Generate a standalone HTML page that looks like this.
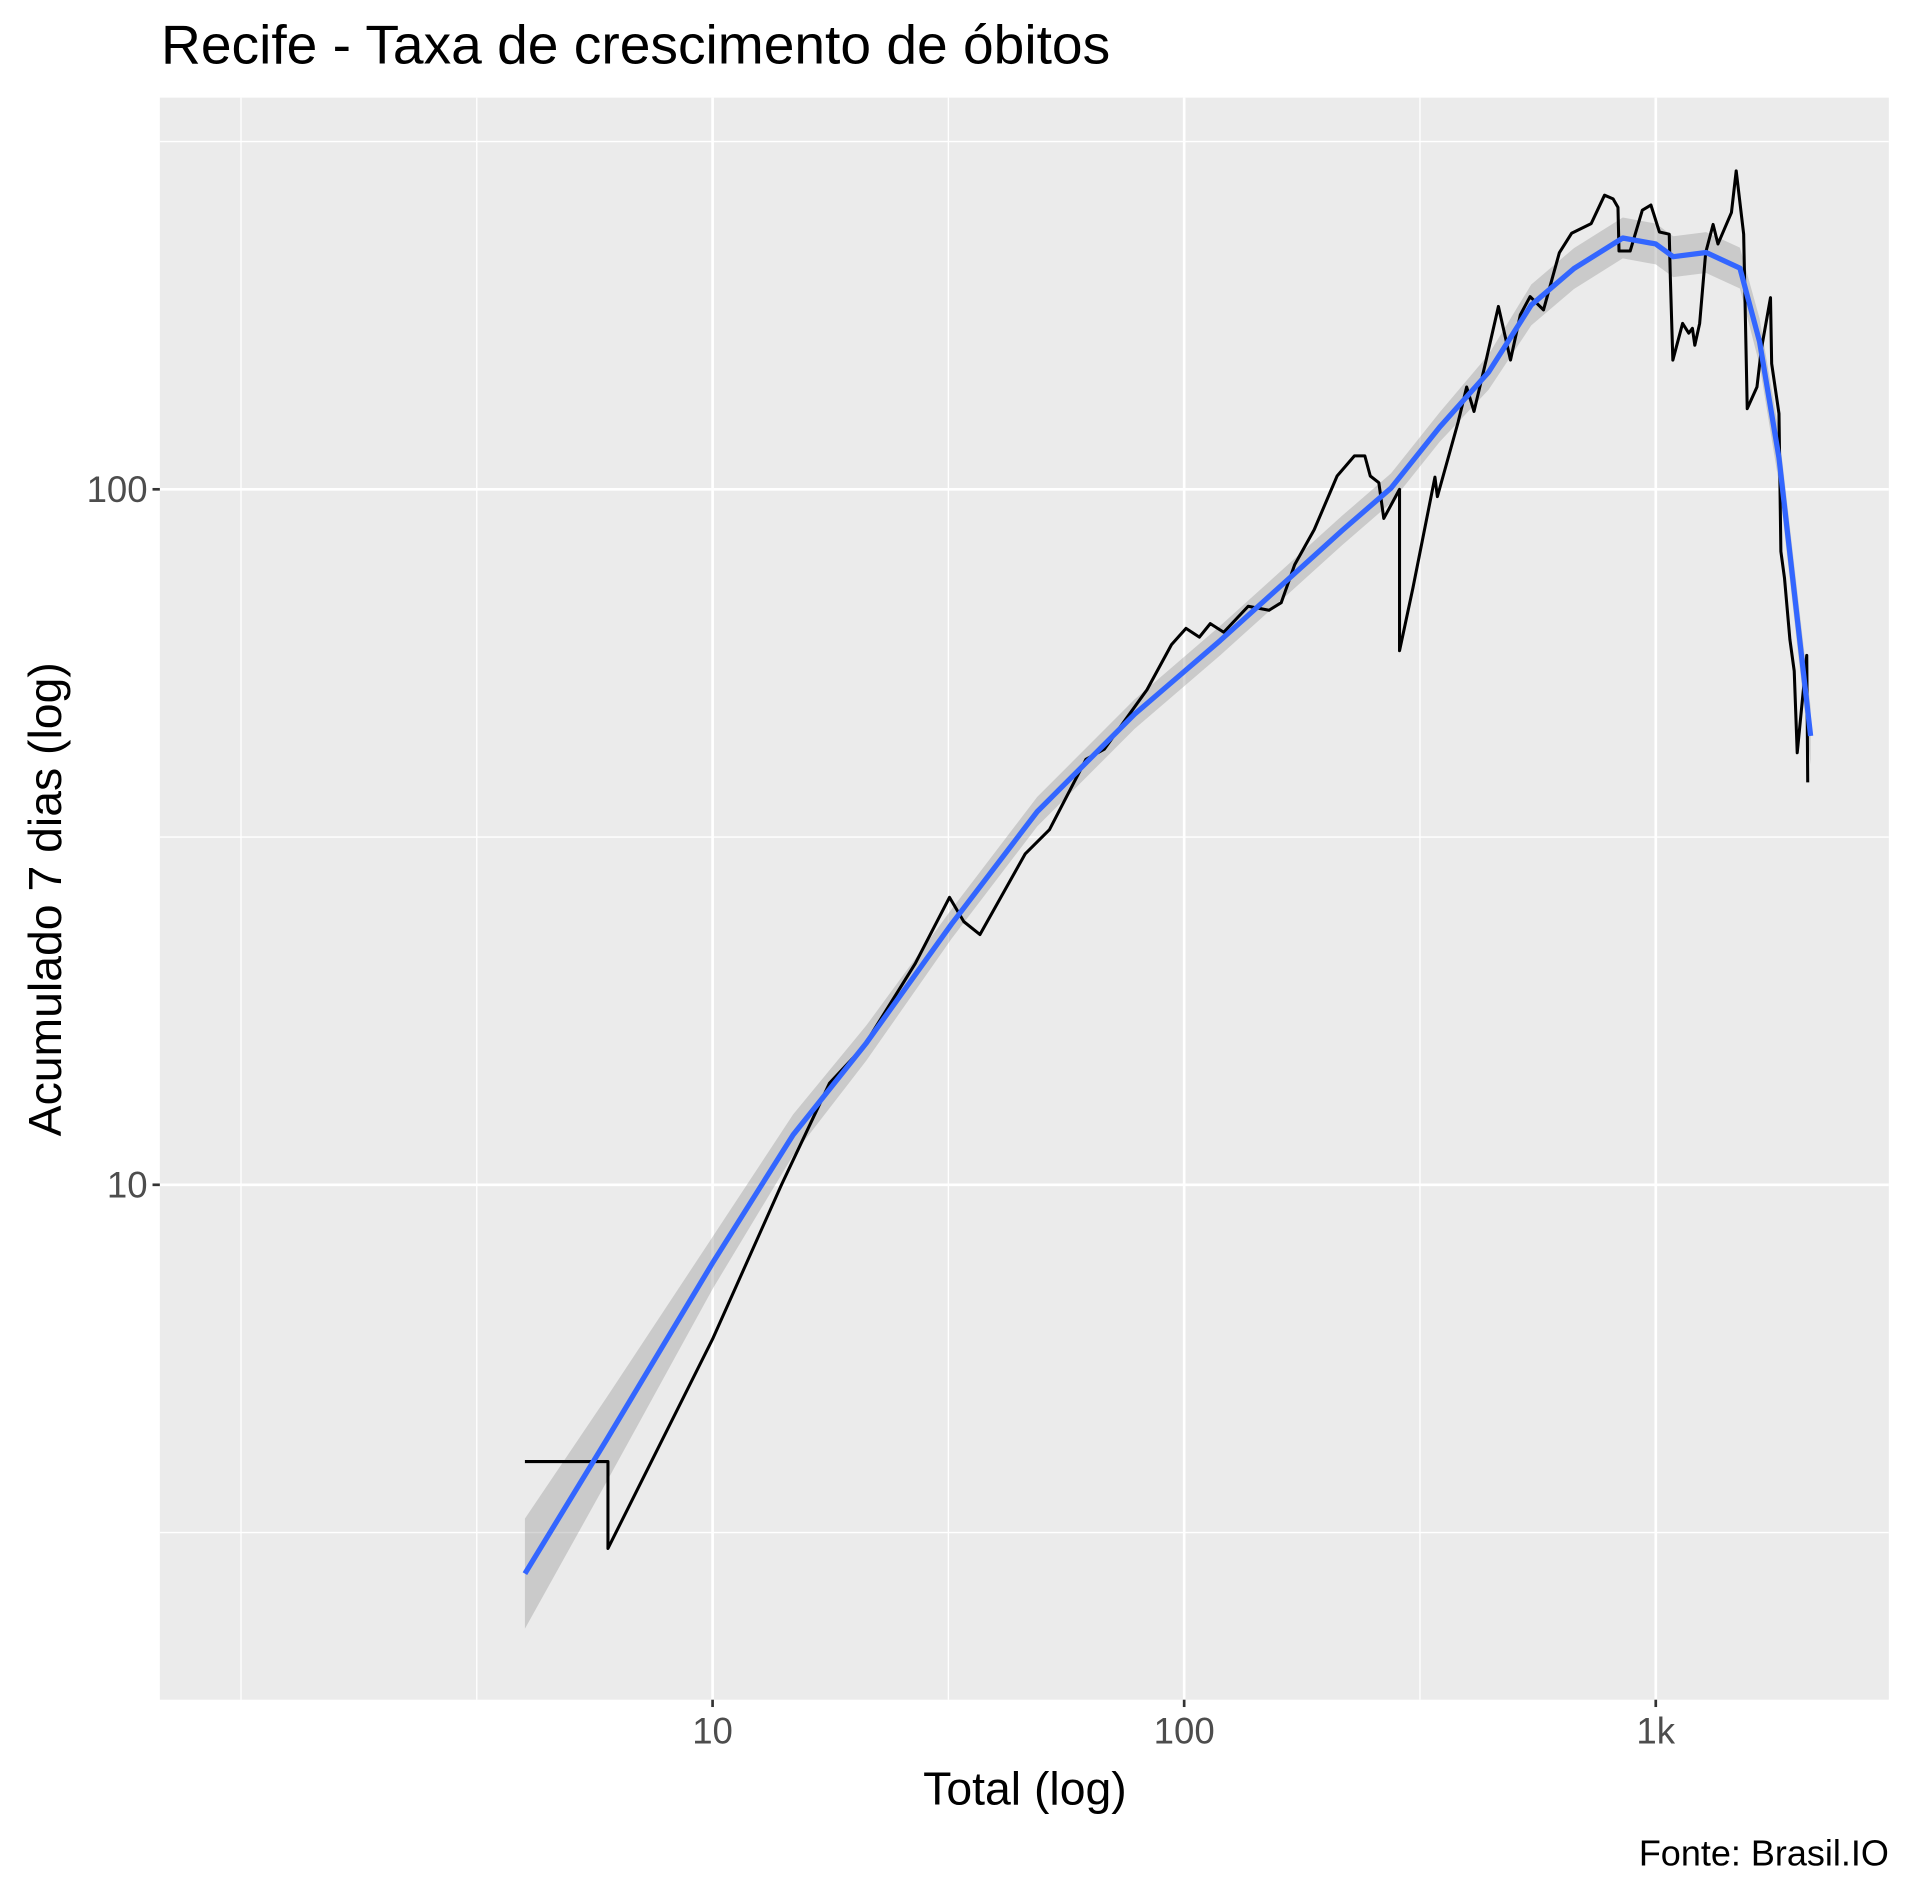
<!DOCTYPE html>
<html><head><meta charset="utf-8"><style>
html,body{margin:0;padding:0;background:#fff}
svg{display:block}
text{font-family:"Liberation Sans",Arial,sans-serif}
</style></head><body>
<svg id="chart" xmlns="http://www.w3.org/2000/svg" width="1912" height="1893" viewBox="0 0 1567 1551.4">
<rect x="0" y="0" width="1567" height="1551.4" fill="#fff"/>
<text x="132" y="52" font-size="45.2" fill="#000">Recife - Taxa de crescimento de óbitos</text>
<rect x="131" y="80" width="1417" height="1313" fill="#EBEBEB"/>
<g id="grid"></g>
<g id="ribbon"></g>
<g id="series"></g>
<g id="axes"></g>
<text x="840" y="1479" font-size="38" text-anchor="middle" fill="#000">Total (log)</text>
<text transform="translate(50,737) rotate(-90)" font-size="38" text-anchor="middle" fill="#000">Acumulado 7 dias (log)</text>
<text x="1548" y="1529" font-size="29.5" text-anchor="end" fill="#000">Fonte: Brasil.IO</text>
</svg>
<script>
const totals = [4,6,6,10,14,17.7,20.9,26.9,31.8,34.1,36.9,46,51.8,61.9,67.7,83.4,94,100.9,107.7,113.6,121.3,136.7,151.3,160.6,171.5,188.7,211,229.6,241.6,248.1,258.7,265,286.2,286.2,305.5,340.2,344.3,381,397.2,411.7,436.9,463.8,492,516.2,541.4,578,624.6,663,729.5,778.7,811.9,831.5,835.7,882.5,936.5,976.5,1018,1068,1074,1087,1140,1175,1196,1210,1239,1276,1323,1355,1447,1481,1536,1563,1639,1674,1751,1761,1825,1842,1875,1925,1966,1995,2090,2100];
const weekly = [4,4,3,6,10,14,15.8,20.8,25.9,23.9,22.9,29.9,32.4,40.9,42.3,51.5,59.8,63.1,61.3,64.1,62.3,67.9,67,68.7,77.9,87.5,104.5,111.7,111.7,104.5,102.2,90.8,100,58.6,72.1,104.1,97.6,124.9,140.3,129.4,153.4,183.2,153.4,178.2,189.3,181.1,218.9,233.4,241,264.8,261.6,254.3,220.1,220.1,252,256.3,234.4,232.7,200.3,153.4,173.2,167.7,170.4,161.1,173.2,218.9,240.3,225.3,250,287,232.7,130.6,140.3,158.8,188.6,151.6,128.5,81.4,74.5,60.8,54.8,41.8,57.7,37.9];
const smoothX = [4,5.96,10,14.82,21.2,32.1,48.8,78.5,119.2,171.5,216,274.5,348.3,442.1,544.5,670.8,851.2,1000,1089,1279,1508,1660,1825,2130];
const smoothY = [2.76,4.3,7.72,11.8,16,23.7,34.4,47.5,60.6,75.7,87.2,100.4,122.9,147.4,184.1,207.7,229.8,225.3,216,219,208,163,111,44.2];
const smoothSpread = [1.2,1.15,1.09,1.07,1.06,1.05,1.05,1.05,1.05,1.05,1.05,1.05,1.05,1.06,1.07,1.07,1.07,1.07,1.07,1.07,1.07,1.08,1.09,1.1];
const xMajor = [10,100,1000];
const xMajorLabels = ["10","100","1k"];
const xMinor = [1,3.1623,31.623,316.23];
const yMajor = [10,100];
const yMajorLabels = ["10","100"];
const yMinor = [3.1623,31.623,316.23];

const NS = "http://www.w3.org/2000/svg";
const PL = 131, PR = 1548, PT = 80, PB = 1393;
function sx(v){ return 584 + 386.5*(Math.log10(v)-1); }
function sy(v){ return 971 - 570*(Math.log10(v)-1); }
function mk(tag, attrs, parent){
  const e = document.createElementNS(NS, tag);
  for (const k in attrs) e.setAttribute(k, attrs[k]);
  parent.appendChild(e);
  return e;
}
const grid = document.getElementById('grid');
xMinor.forEach(v => {
  const l = mk('line', {x1:sx(v), x2:sx(v), y1:PT, y2:PB, stroke:'#fff', 'stroke-width':1.1}, grid);
  
  
});
yMinor.forEach(v => {
  const l = mk('line', {x1:PL, x2:PR, y1:sy(v), y2:sy(v), stroke:'#fff', 'stroke-width':1.1}, grid);
  
  
});
xMajor.forEach(v => {
  const l = mk('line', {x1:sx(v), x2:sx(v), y1:PT, y2:PB, stroke:'#fff', 'stroke-width':2.2}, grid);
  
  
});
yMajor.forEach(v => {
  const l = mk('line', {x1:PL, x2:PR, y1:sy(v), y2:sy(v), stroke:'#fff', 'stroke-width':2.2}, grid);
  
  
});
const rib = document.getElementById('ribbon');
let up = smoothX.map((x,i)=>sx(x)+','+sy(smoothY[i]*smoothSpread[i]));
let lo = smoothX.map((x,i)=>sx(x)+','+sy(smoothY[i]/smoothSpread[i])).reverse();
const band = mk('polygon', {points: up.concat(lo).join(' '), fill:'#999999', 'fill-opacity':0.4}, rib);


const ser = document.getElementById('series');
const raw = mk('polyline', {points: totals.map((x,i)=>sx(x)+','+sy(weekly[i])).join(' '), fill:'none', stroke:'#000', 'stroke-width':2.5, 'stroke-linejoin':'round'}, ser);


const sm = mk('polyline', {points: smoothX.map((x,i)=>sx(x)+','+sy(smoothY[i])).join(' '), fill:'none', stroke:'#3366FF', 'stroke-width':4.3, 'stroke-linejoin':'round'}, ser);


const ax = document.getElementById('axes');
xMajor.forEach((v,i) => {
  const t = mk('line', {x1:sx(v), x2:sx(v), y1:PB, y2:PB+6, stroke:'#333', 'stroke-width':2.2}, ax);
  
  
  const lb = mk('text', {x:sx(v), y:PB+36, 'font-size':30, 'text-anchor':'middle', fill:'#4D4D4D'}, ax);
  lb.textContent = xMajorLabels[i];
  
  
});
yMajor.forEach((v,i) => {
  const t = mk('line', {x1:PL-6, x2:PL, y1:sy(v), y2:sy(v), stroke:'#333', 'stroke-width':2.2}, ax);
  
  
  const lb = mk('text', {x:PL-10, y:sy(v)+10.5, 'font-size':30, 'text-anchor':'end', fill:'#4D4D4D'}, ax);
  lb.textContent = yMajorLabels[i];
  
  
});
</script>
</body></html>
